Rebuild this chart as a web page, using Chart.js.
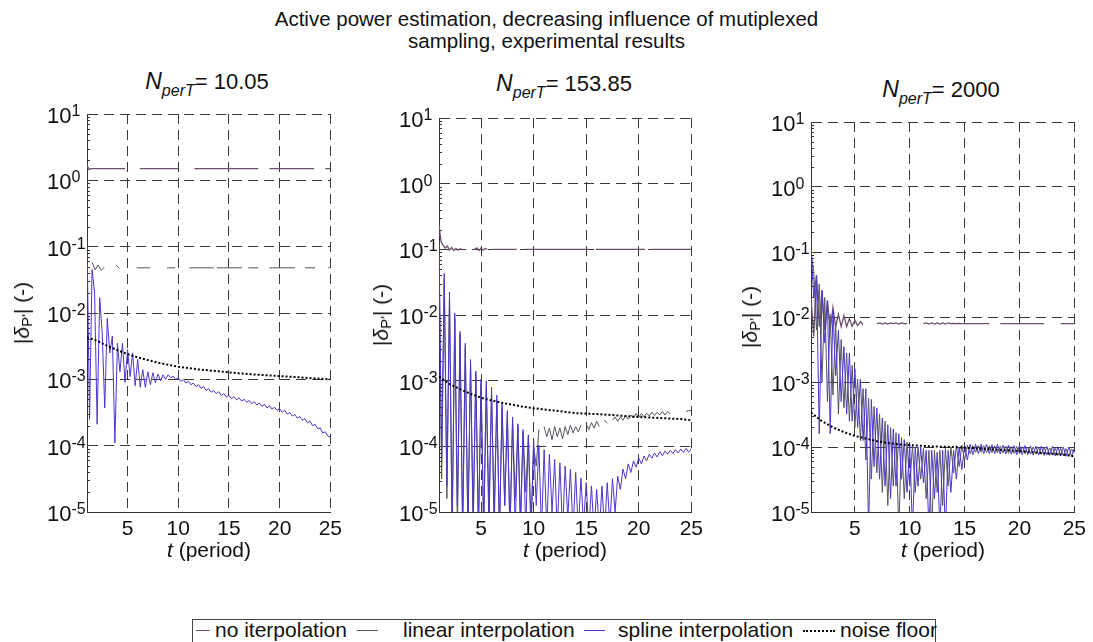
<!DOCTYPE html>
<html>
<head>
<meta charset="utf-8">
<script src="https://cdn.jsdelivr.net/npm/chart.js@4.4.0/dist/chart.umd.min.js"></script>
<style>
  body { margin: 0; background: #fff; font-family: "Liberation Sans", Arial, sans-serif; color: #111; }
  #page { position: relative; width: 1093px; height: 642px; overflow: hidden; }
  .abs { position: absolute; white-space: nowrap; }
  canvas { position: absolute; }
  .sub { font-size: 22px; line-height: 26px; text-align: center; width: 220px; }
  .sub i.n { font-size: 23px; }
  .sub sub { font-size: 16px; position: relative; top: 7px; vertical-align: baseline; }
  .ylab { font-size: 21px; transform: translate(-50%, -50%) rotate(-90deg); }
  .ylab sub { font-size: 15px; position: relative; top: 3px; vertical-align: baseline; }
  .xlab { font-size: 21px; transform: translateX(-50%); }
  .leg { font-size: 21px; line-height: 24px; top: 618px; }
  .swatch { position: absolute; top: 630px; height: 0; }
</style>
</head>
<body>
<div id="page">
  <div class="abs" style="left:0;top:8px;width:1093px;text-align:center;font-size:20.5px;line-height:22px;">Active power estimation, decreasing influence of mutiplexed<br>sampling, experimental results</div>

  <div class="abs sub" style="left:97px;top:68px;"><i class="n">N</i><sub><i>perT</i></sub>= 10.05</div>
  <div class="abs sub" style="left:454px;top:70px;"><i class="n">N</i><sub><i>perT</i></sub>= 153.85</div>
  <div class="abs sub" style="left:831px;top:76px;"><i class="n">N</i><sub><i>perT</i></sub>= 2000</div>

  <canvas id="p1" width="320" height="460" style="left:27px;top:102px;"></canvas>
  <canvas id="p2" width="329" height="456" style="left:379px;top:106px;"></canvas>
  <canvas id="p3" width="340" height="452" style="left:751px;top:110px;"></canvas>

  <div class="abs ylab" style="left:22px;top:313px;">|<i>δ</i><sub>P'</sub>| (-)</div>
  <div class="abs ylab" style="left:381px;top:315px;">|<i>δ</i><sub>P'</sub>| (-)</div>
  <div class="abs ylab" style="left:750px;top:317px;">|<i>δ</i><sub>P'</sub>| (-)</div>

  <div class="abs xlab" style="left:209px;top:538px;"><i>t</i> (period)</div>
  <div class="abs xlab" style="left:565px;top:538px;"><i>t</i> (period)</div>
  <div class="abs xlab" style="left:943px;top:538px;"><i>t</i> (period)</div>

  <div class="abs" style="left:192px;top:619px;width:742px;height:40px;border:1px solid #444;"></div>
  <div class="swatch" style="left:196px;width:14px;border-top:1px solid rgb(110,80,110);"></div>
  <div class="abs leg" style="left:215px;">no iterpolation</div>
  <div class="swatch" style="left:357px;width:21px;border-top:1px solid #555;"></div>
  <div class="abs leg" style="left:403px;">linear interpolation</div>
  <div class="swatch" style="left:584px;width:21px;border-top:1px solid rgb(75,55,205);"></div>
  <div class="abs leg" style="left:618px;">spline interpolation</div>
  <div class="swatch" style="left:803px;width:32px;border-top:2px dotted #000;"></div>
  <div class="abs leg" style="left:840px;">noise floor</div>
</div>

<script>
// axes
const yTickExponents = [-5, -4, -3, -2, -1, 0, 1];
const xTicks = [5, 10, 15, 20, 25];

// time grids (period)
const tDense = [
  1, 1.25, 1.5, 1.75, 2, 2.25, 2.5, 2.75, 3, 3.25, 3.5, 3.75, 4, 4.25, 4.5, 4.75,
  5, 5.25, 5.5, 5.75, 6, 6.25, 6.5, 6.75, 7, 7.25, 7.5, 7.75, 8, 8.25, 8.5, 8.75,
  9, 9.25, 9.5, 9.75, 10, 10.25, 10.5, 10.75, 11, 11.25, 11.5, 11.75, 12, 12.25, 12.5, 12.75,
  13, 13.25, 13.5, 13.75, 14, 14.25, 14.5, 14.75, 15, 15.25, 15.5, 15.75, 16, 16.25, 16.5, 16.75,
  17, 17.25, 17.5, 17.75, 18, 18.25, 18.5, 18.75, 19, 19.25, 19.5, 19.75, 20, 20.25, 20.5, 20.75,
  21, 21.25, 21.5, 21.75, 22, 22.25, 22.5, 22.75, 23, 23.25, 23.5, 23.75, 24, 24.25, 24.5, 24.75,
  25
];
const tNoise = [1, 2, 3, 4, 5, 6, 7, 8, 9, 10, 12, 14, 16, 18, 20, 22, 24, 25];

// ---- N = 10.05 ----
const t1NoInterp = [1, 1.2, 1.4, 4.75, 4.8, 6.2, 10.0, 10.05, 11.6, 17.9, 17.95, 19.0, 23.4, 23.45, 24.5, 25];
const p1NoInterp = [1.7, 1.45, 1.5, 1.5, null, 1.5, 1.5, null, 1.5, 1.5, null, 1.5, 1.5, null, 1.5, 1.5];
const t1Linear = [1.5, 1.8, 2.1, 2.4, 2.7, 2.75, 3.9, 4.2, 4.25, 5.9, 7.2, 7.25, 8.9, 9.7, 9.75,
  11.1, 13.5, 13.55, 13.8, 16.3, 16.35, 16.9, 17.9, 17.95, 19.0, 21.5, 21.55, 22.5, 23.5, 23.55, 24.8, 25];
const p1Linear = [5.8e-2, 4.5e-2, 5.3e-2, 4.4e-2, 4.9e-2, null, 5.2e-2, 4.7e-2, null, 4.8e-2, 4.8e-2, null, 4.8e-2, 4.8e-2, null,
  4.8e-2, 4.8e-2, null, 4.8e-2, 4.8e-2, null, 4.8e-2, 4.8e-2, null, 4.8e-2, 4.8e-2, null, 4.8e-2, 4.8e-2, null, 4.8e-2, 4.8e-2];
const p1Spline = [
  1.26e-1, 2.5e-4, 4.5e-2, 2.0e-2,
  2.1e-4, 1.7e-2, 5.0e-3, 3.7e-4,
  8.3e-3, 2.5e-3, 4.5e-3, 1.1e-4,
  3.5e-3, 1.3e-3, 3.5e-3, 9.0e-4,
  2.8e-3, 1.1e-3, 2.5e-3, 8.0e-4,
  2.0e-3, 7.6e-4, 1.4e-3, 7.6e-4,
  1.3e-3, 8.3e-4, 1.26e-3, 8.9e-4,
  1.2e-3, 9.5e-4, 1.17e-3, 1.0e-3,
  1.17e-3, 1.05e-3, 1.12e-3, 1.0e-3,
  1.05e-3, 9.3e-4, 9.9e-4, 8.8e-4,
  9.3e-4, 8.3e-4, 8.8e-4, 7.8e-4,
  8.3e-4, 7.3e-4, 7.8e-4, 6.8e-4,
  7.2e-4, 6.4e-4, 6.8e-4, 6.1e-4,
  6.5e-4, 5.7e-4, 6.1e-4, 5.4e-4,
  5.75e-4, 5.1e-4, 5.5e-4, 4.9e-4,
  5.25e-4, 4.7e-4, 5.0e-4, 4.5e-4,
  4.8e-4, 4.3e-4, 4.6e-4, 4.1e-4,
  4.4e-4, 3.9e-4, 4.2e-4, 3.7e-4,
  4.0e-4, 3.55e-4, 3.8e-4, 3.4e-4,
  3.6e-4, 3.2e-4, 3.4e-4, 3.0e-4,
  3.16e-4, 2.8e-4, 2.95e-4, 2.6e-4,
  2.75e-4, 2.4e-4, 2.55e-4, 2.2e-4,
  2.35e-4, 2.0e-4, 2.1e-4, 1.8e-4,
  1.86e-4, 1.55e-4, 1.62e-4, 1.4e-4,
  1.35e-4
];
const p1Noise = [4.3e-3, 3.8e-3, 3.2e-3, 2.75e-3, 2.4e-3, 2.14e-3, 1.95e-3, 1.78e-3, 1.66e-3,
  1.55e-3, 1.41e-3, 1.32e-3, 1.23e-3, 1.17e-3, 1.12e-3, 1.07e-3, 1.02e-3, 1.0e-3];

// ---- N = 153.85 ----
const t2NoInterp = [1, 1.2, 1.4, 1.6, 1.8, 2.0, 2.2, 2.4, 2.6, 2.8, 3.0, 3.2, 3.25, 4.4, 4.6, 4.8, 5.0, 5.2, 5.4, 5.6, 5.65,
  6.1, 8.4, 8.45, 9.2, 15.3, 15.35, 15.9, 20.6, 20.65, 21.2, 25];
const p2NoInterp = [2.3e-1, 1.3e-1, 1.15e-1, 1.05e-1, 1.12e-1, 9.7e-2, 1.06e-1, 9.6e-2, 1.03e-1, 9.7e-2, 1.02e-1, 9.9e-2, null,
  1.0e-1, 1.05e-1, 9.6e-2, 1.04e-1, 9.7e-2, 1.03e-1, 1.0e-1, null,
  1.0e-1, 1.0e-1, null, 1.0e-1, 1.0e-1, null, 1.0e-1, 1.0e-1, null, 1.0e-1, 1.0e-1];
const p2Linear = [
  1.12e-1, 3.2e-5, 3.5e-2, 1.6e-5,
  1.8e-2, 5e-6, 8.9e-3, 5e-6,
  5.0e-3, 5e-6, 3.2e-3, 5e-6,
  1.8e-3, 5e-6, 1.26e-3, 5e-6,
  8.9e-4, 5e-6, 7.9e-4, 5e-6,
  6.3e-4, 1.0e-5, 5.0e-4, 5e-6,
  3.8e-4, 1.26e-5, 3.0e-4, 5e-6,
  2.4e-4, 1.6e-5, 2.0e-4, 5e-6,
  1.66e-4, 2.0e-5, 1.4e-4, 5e-6,
  1.0e-4, 5.0e-5, 1.8e-4, null,
  2.0e-4, 1.4e-4, 1.9e-4, 1.26e-4,
  2.0e-4, 1.4e-4, 1.9e-4, 1.3e-4,
  2.0e-4, 1.5e-4, 2.1e-4, 1.6e-4,
  2.0e-4, 1.66e-4, 2.1e-4, null,
  2.2e-4, 1.8e-4, 2.3e-4, 1.9e-4,
  2.4e-4, 2.0e-4, null, 2.5e-4,
  2.24e-4, null, 2.5e-4, 2.8e-4,
  2.4e-4, 2.8e-4, 2.5e-4, 2.95e-4,
  2.6e-4, 3.0e-4, 2.7e-4, 3.16e-4,
  2.75e-4, 3.16e-4, 2.8e-4, 3.2e-4,
  2.9e-4, 3.3e-4, 2.95e-4, 3.3e-4,
  3.0e-4, 3.4e-4, 3.0e-4, 3.4e-4,
  3.1e-4, null, null, null,
  null, null, 3.4e-4, 3.5e-4,
  3.5e-4
];
const p2Spline = [
  1.38e-1, 6.3e-5, 4.3e-2, 2.5e-5,
  2.24e-2, 5e-6, 1.07e-2, 1.26e-5,
  5.6e-3, 5e-6, 3.7e-3, 5e-6,
  2.1e-3, 7.9e-6, 1.4e-3, 5e-6,
  1.05e-3, 5e-6, 1.0e-3, 1.0e-5,
  7.9e-4, 5e-6, 6.0e-4, 5e-6,
  4.5e-4, 1.26e-5, 3.5e-4, 5e-6,
  2.8e-4, 5e-6, 2.2e-4, 7.9e-6,
  1.8e-4, 5e-6, 1.5e-4, 5e-6,
  1.26e-4, 1.26e-5, 1.05e-4, 5e-6,
  8.9e-5, 5e-6, 7.6e-5, 1.0e-5,
  6.3e-5, 5e-6, 5.6e-5, 5e-6,
  5.0e-5, 7.9e-6, 4.5e-5, 5e-6,
  4.0e-5, 5e-6, 3.3e-5, 6.3e-6,
  2.8e-5, 5e-6, 2.5e-5, 5e-6,
  2.2e-5, 5e-6, 2.5e-5, 5e-6,
  2.8e-5, 6.3e-6, 3.2e-5, 1.0e-5,
  3.5e-5, 2.2e-5, 4.5e-5, 3.2e-5,
  5.4e-5, 4.0e-5, 6.0e-5, 4.8e-5,
  6.6e-5, 5.4e-5, 7.1e-5, 6.0e-5,
  7.6e-5, 6.6e-5, 7.9e-5, 6.9e-5,
  8.3e-5, 7.2e-5, 8.5e-5, 7.6e-5,
  8.7e-5, 7.8e-5, 8.9e-5, 7.9e-5,
  9.1e-5, 8.1e-5, 9.3e-5, 8.1e-5,
  9.3e-5
];
const p2Noise = [1.15e-3, 8.9e-4, 7.4e-4, 6.3e-4, 5.5e-4, 5.0e-4, 4.6e-4, 4.3e-4, 4.0e-4,
  3.8e-4, 3.5e-4, 3.2e-4, 3.1e-4, 2.95e-4, 2.8e-4, 2.7e-4, 2.6e-4, 2.5e-4];

// ---- N = 2000 ----
const p3NoInterp = [
  2.0e-2, 5.0e-3, 4.4e-2, 7.1e-3,
  2.5e-2, 6.3e-3, 1.8e-2, 6.3e-3,
  1.4e-2, 7.1e-3, 1.1e-2, 7.1e-3,
  1.05e-2, 7.1e-3, 9.5e-3, 7.2e-3,
  8.9e-3, 7.4e-3, 8.5e-3, 7.6e-3,
  null, null, null, null,
  7.9e-3, 8.1e-3, 7.8e-3, 8.1e-3,
  7.8e-3, 8.1e-3, 7.9e-3, 8.1e-3,
  7.8e-3, 8.1e-3, 7.9e-3, 7.9e-3,
  null, null, null, null,
  null, 7.9e-3, 8.1e-3, 7.8e-3,
  8.1e-3, 7.8e-3, 8.1e-3, 7.8e-3,
  8.1e-3, 7.8e-3, 8.1e-3, 7.9e-3,
  8.0e-3, 7.9e-3, 8.0e-3, 7.9e-3,
  7.9e-3, 7.9e-3, 7.9e-3, 7.9e-3,
  7.9e-3, 7.9e-3, 7.9e-3, 7.9e-3,
  7.9e-3, 7.9e-3, null, null,
  null, 7.9e-3, 7.9e-3, 7.9e-3,
  7.9e-3, 7.9e-3, 7.9e-3, 7.9e-3,
  7.9e-3, 7.9e-3, 7.9e-3, 7.9e-3,
  7.9e-3, 7.9e-3, 7.9e-3, 7.9e-3,
  7.9e-3, 7.9e-3, null, null,
  null, null, null, 7.9e-3,
  7.9e-3, 7.9e-3, 7.9e-3, 7.9e-3,
  7.9e-3
];
const p3Linear = [
  1.0e-1, 5.0e-2, 6.3e-3, 3.2e-2,
  1.0e-3, 2.0e-2, 5.0e-4, 1.1e-2,
  6.3e-4, 7.9e-3, 3.2e-4, 4.5e-3,
  4.0e-4, 2.8e-3, 2.5e-4, 1.8e-3,
  2.0e-4, 1.1e-3, 1.26e-4, 7.9e-4,
  6.3e-5, 5.6e-4, 3.2e-5, 4.2e-4,
  4.0e-5, 3.2e-4, 2.0e-5, 2.5e-4,
  1.26e-5, 2.0e-4, 2.5e-5, 1.66e-4,
  5e-6, 1.4e-4, 1.6e-5, 1.2e-4,
  2.5e-5, 1.07e-4, 2.0e-5, 1.0e-4,
  3.2e-5, 9.5e-5, 1.6e-5, 8.9e-5,
  5e-6, 8.9e-5, 2.0e-5, 8.9e-5,
  1.26e-5, 9.5e-5, 2.5e-5, 1.0e-4,
  4.0e-5, 1.05e-4, 5.0e-5, 1.07e-4,
  6.3e-5, 1.07e-4, 7.9e-5, 1.05e-4,
  8.3e-5, 1.05e-4, 8.3e-5, 1.05e-4,
  8.2e-5, 1.04e-4, 8.2e-5, 1.04e-4,
  8.1e-5, 1.03e-4, 8.1e-5, 1.03e-4,
  8.0e-5, 1.02e-4, 8.0e-5, 1.02e-4,
  7.9e-5, 1.01e-4, 7.9e-5, 1.0e-4,
  7.8e-5, 1.0e-4, 7.8e-5, 9.9e-5,
  7.7e-5, 9.8e-5, 7.6e-5, 9.7e-5,
  7.5e-5, 9.6e-5, 7.4e-5, 9.5e-5,
  7.3e-5, 9.4e-5, 7.2e-5, 9.3e-5,
  8.0e-5
];
const p3Spline = [
  1.26e-1, 2.0e-2, 4.4e-2, 1.6e-4,
  2.6e-2, 4.0e-3, 1.8e-2, 1.6e-4,
  1.26e-2, 1.26e-3, 6.3e-3, 5.0e-4,
  3.5e-3, 3.2e-4, 2.8e-3, 2.5e-4,
  1.6e-3, 2.0e-4, 1.1e-3, 1.26e-4,
  7.9e-4, 5e-6, 5.4e-4, 5.0e-5,
  4.0e-4, 3.2e-5, 2.8e-4, 2.5e-5,
  2.2e-4, 1.6e-5, 1.9e-4, 2.5e-5,
  1.6e-4, 3.2e-5, 1.3e-4, 2.0e-5,
  1.1e-4, 5e-6, 1.0e-4, 2.5e-5,
  1.0e-4, 2.8e-5, 8.9e-5, 5e-6,
  8.9e-5, 1.6e-5, 8.3e-5, 5e-6,
  8.9e-5, 5e-6, 8.9e-5, 2.0e-5,
  8.9e-5, 3.2e-5, 1.0e-4, 4.5e-5,
  1.05e-4, 6.3e-5, 1.1e-4, 7.6e-5,
  1.1e-4, 7.9e-5, 1.1e-4, 7.9e-5,
  1.1e-4, 7.9e-5, 1.08e-4, 7.9e-5,
  1.1e-4, 7.8e-5, 1.07e-4, 7.8e-5,
  1.07e-4, 7.8e-5, 1.05e-4, 7.6e-5,
  1.05e-4, 7.6e-5, 1.05e-4, 7.6e-5,
  1.04e-4, 7.5e-5, 1.03e-4, 7.5e-5,
  1.03e-4, 7.4e-5, 1.02e-4, 7.4e-5,
  1.02e-4, 7.3e-5, 1.01e-4, 7.3e-5,
  1.0e-4, 7.2e-5, 1.0e-4, 7.2e-5,
  9.5e-5
];
const p3Noise = [3.4e-4, 2.5e-4, 2.0e-4, 1.7e-4, 1.48e-4, 1.35e-4, 1.23e-4, 1.15e-4, 1.1e-4,
  1.07e-4, 1.02e-4, 1.0e-4, 9.5e-5, 9.1e-5, 8.7e-5, 8.1e-5, 7.6e-5, 7.2e-5];

const FONT = '"Liberation Sans", Arial, sans-serif';
const colNoInterp = 'rgb(110,80,110)';
const colLinear = 'rgb(85,85,95)';
const colSpline = 'rgb(75,55,205)';

function pts(t, v) {
  return t.map((x, i) => ({ x: x, y: v[i] }));
}

// draws 10^n labels and the small log ticks on the left axis
const decadeLabels = {
  id: 'decadeLabels',
  afterDraw(chart) {
    const ctx = chart.ctx;
    const y = chart.scales.y;
    const area = chart.chartArea;
    ctx.save();
    ctx.fillStyle = '#111';
    ctx.textAlign = 'left';
    ctx.textBaseline = 'alphabetic';
    yTickExponents.forEach(e => {
      const py = y.getPixelForValue(Math.pow(10, e));
      const x0 = area.left - 40;
      ctx.font = '22px ' + FONT;
      ctx.fillText('10', x0, py + 9);
      const w = ctx.measureText('10').width;
      ctx.font = '16px ' + FONT;
      ctx.fillText(String(e), x0 + w, py + 2);
    });
    ctx.strokeStyle = '#333';
    ctx.lineWidth = 1;
    ctx.beginPath();
    for (let e = -5; e < 1; e++) {
      for (let m = 2; m < 10; m++) {
        const py = Math.round(y.getPixelForValue(m * Math.pow(10, e))) + 0.5;
        ctx.moveTo(area.left, py);
        ctx.lineTo(area.left + 3, py);
      }
    }
    ctx.stroke();
    ctx.restore();
  }
};

function makePanel(id, noInterp, linear, spline, noise) {
  const ds = (label, data, color, order, extra) => Object.assign({
    label: label, data: data, borderColor: color, borderWidth: 1,
    pointRadius: 0, tension: 0, spanGaps: false, order: order
  }, extra || {});
  return new Chart(document.getElementById(id), {
    type: 'line',
    data: {
      datasets: [
        ds('noise floor', noise, '#000', 0, { borderWidth: 2, borderDash: [2, 2] }),
        ds('spline interpolation', spline, colSpline, 1),
        ds('linear interpolation', linear, colLinear, 2),
        ds('no iterpolation', noInterp, colNoInterp, 3, { borderWidth: 1.3 })
      ]
    },
    options: {
      responsive: false,
      animation: false,
      layout: { padding: { top: 12, right: 16, left: 0, bottom: 0 } },
      plugins: { legend: { display: false }, tooltip: { enabled: false } },
      scales: {
        x: {
          type: 'linear', min: 1, max: 25,
          afterBuildTicks: s => { s.ticks = xTicks.map(v => ({ value: v })); },
          afterFit: s => { s.height = 50; },
          ticks: { font: { family: FONT, size: 21 }, color: '#111', padding: 5, maxRotation: 0 },
          grid: { color: '#3a3a3a', lineWidth: 1, drawTicks: false },
          border: { display: true, color: '#333', width: 1, dash: [10, 6] }
        },
        y: {
          type: 'logarithmic', min: 1e-5, max: 10,
          afterBuildTicks: s => { s.ticks = yTickExponents.map(e => ({ value: Math.pow(10, e) })); },
          afterFit: s => { s.width = 60; },
          ticks: { display: false },
          grid: { color: '#3a3a3a', lineWidth: 1, drawTicks: false },
          border: { display: true, color: '#333', width: 1, dash: [10, 6] }
        }
      }
    },
    plugins: [decadeLabels]
  });
}

makePanel('p1', pts(t1NoInterp, p1NoInterp), pts(t1Linear, p1Linear), pts(tDense, p1Spline), pts(tNoise, p1Noise));
makePanel('p2', pts(t2NoInterp, p2NoInterp), pts(tDense, p2Linear), pts(tDense, p2Spline), pts(tNoise, p2Noise));
makePanel('p3', pts(tDense, p3NoInterp), pts(tDense, p3Linear), pts(tDense, p3Spline), pts(tNoise, p3Noise));
</script>
</body>
</html>
